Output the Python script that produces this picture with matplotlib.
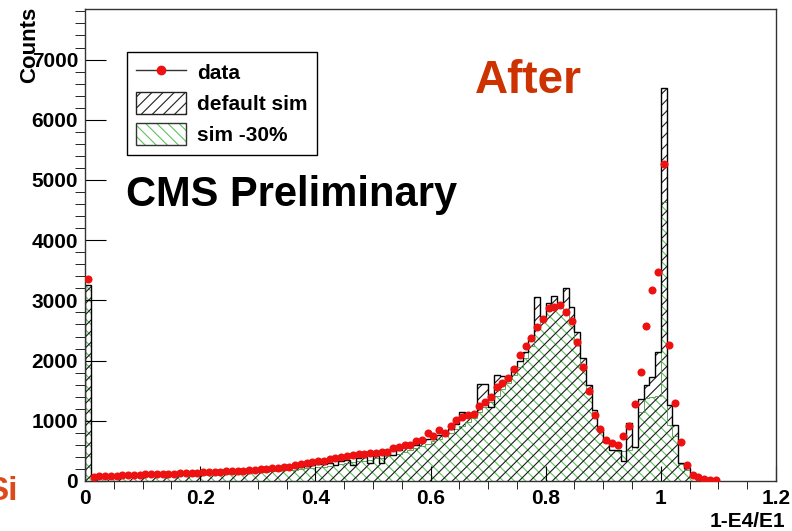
import numpy as np
import matplotlib
matplotlib.use('Agg')
import matplotlib.pyplot as plt
from matplotlib.patches import Patch
from matplotlib.lines import Line2D
from matplotlib.ticker import MultipleLocator

plt.rcParams['font.family'] = ['Liberation Sans', 'DejaVu Sans']
plt.rcParams['font.weight'] = 'bold'
plt.rcParams['hatch.linewidth'] = 0.8

# counts per bin of 1-E4/E1, bins of 0.01 from 0 to 1.10
data_counts = [3350,
    70, 78, 82, 90, 88, 96, 100, 98, 105, 110,
    108, 115, 118, 122, 120, 128, 132, 130, 138, 142,
    148, 152, 150, 160, 165, 172, 170, 180, 188, 195,
    200, 210, 218, 225, 240, 260, 280, 295, 310, 325,
    340, 360, 375, 395, 415, 430, 445, 455, 465, 470,
    475, 490, 540, 570, 600, 605, 665, 680, 790, 740,
    850, 795, 915, 1010, 1065, 1095, 1115, 1250, 1320, 1390,
    1565, 1620, 1705, 1855, 2095, 2245, 2370, 2565, 2685, 2870,
    2895, 2925, 2810, 2665, 2310, 1890, 1500, 1100, 860, 680,
    625, 600, 750, 915, 1280, 1805, 2575, 3175, 3470, 5265,
    2260, 1300, 650, 270, 105, 60, 35, 20, 10]

default_sim = [3260,
    60, 65, 72, 75, 80, 82, 85, 88, 90, 95,
    95, 100, 102, 105, 108, 110, 115, 112, 120, 125,
    128, 130, 135, 140, 142, 150, 155, 158, 165, 170,
    175, 185, 195, 200, 215, 225, 240, 250, 262, 275,
    290, 300, 270, 335, 350, 260, 385, 400, 300, 420,
    300, 460, 430, 520, 560, 580, 600, 640, 700, 690,
    760, 780, 860, 950, 1150, 1060, 1130, 1610, 1610, 1235,
    1760, 1750, 1700, 1900, 2000, 2150, 2350, 3060, 2730, 2950,
    3070, 2950, 3200, 2890, 2480, 2040, 1595, 1180, 850, 650,
    515, 515, 330, 970, 570, 1370, 1600, 1730, 2150, 6530,
    1260, 930, 300, 210, 125, 50, 20, 10, 0]

sim_minus30 = [3250,
    50, 55, 60, 62, 65, 68, 70, 72, 75, 78,
    80, 82, 85, 88, 90, 92, 95, 98, 100, 105,
    108, 110, 115, 118, 122, 128, 132, 138, 142, 148,
    155, 160, 168, 175, 182, 190, 200, 210, 220, 230,
    240, 255, 265, 280, 295, 310, 325, 340, 355, 375,
    390, 410, 430, 455, 480, 510, 540, 575, 620, 660,
    700, 750, 800, 860, 920, 980, 1050, 1150, 1230, 1320,
    1420, 1520, 1630, 1760, 1900, 2050, 2250, 2600, 2680, 2830,
    2880, 2900, 2850, 2700, 2350, 1900, 1480, 1100, 840, 640,
    510, 505, 500, 510, 570, 1150, 1380, 1400, 1420, 4640,
    930, 740, 290, 190, 90, 40, 15, 5, 0]

x_range = (0.0, 1.10)
x_ticks = [0, 0.2, 0.4, 0.6, 0.8, 1.0, 1.2]
x_ticklabels = ['0', '0.2', '0.4', '0.6', '0.8', '1', '1.2']
y_ticks = [0, 1000, 2000, 3000, 4000, 5000, 6000, 7000]
legend_labels = ['data', 'default sim', 'sim -30%']

edges = np.linspace(x_range[0], x_range[1], len(data_counts) + 1)
centers = 0.5 * (edges[:-1] + edges[1:])

W, H = 792, 531
fig = plt.figure(figsize=(W / 100, H / 100), dpi=100)
ax = fig.add_axes([85 / W, 50 / H, 691 / W, 472 / H])

green = '#5cc45c'
# hatched histograms: green one drawn first so the black hatch crosses it
ax.stairs(sim_minus30, edges, fill=True, facecolor='none', edgecolor=green,
          hatch='\\\\\\', linewidth=0)
ax.stairs(default_sim, edges, fill=True, facecolor='none', edgecolor='#1a1a1a',
          hatch='///', linewidth=0)
ax.stairs(sim_minus30, edges, color='#4a9a4a', lw=0.6)
ax.stairs(default_sim, edges, color='black', lw=1.0)

# data points
ax.plot(centers, data_counts, 'o', color='#ee1111', ms=5.8, mew=0, zorder=5)

ax.set_xlim(0, 1.2)
ax.set_ylim(0, 7840)
ax.set_xticks(x_ticks)
ax.set_xticklabels(x_ticklabels)
ax.set_yticks(y_ticks)
ax.xaxis.set_minor_locator(MultipleLocator(0.05))
ax.yaxis.set_minor_locator(MultipleLocator(200))
ax.tick_params(direction='in', labelsize=15)
ax.tick_params(axis='y', which='major', length=15, pad=5)
ax.tick_params(axis='y', which='minor', length=7.5)
ax.tick_params(axis='x', which='major', length=11, pad=6)
ax.tick_params(axis='x', which='minor', length=5.5)
for s in ax.spines.values():
    s.set_linewidth(1.0)
    s.set_color('#333333')

# legend
h_data = Line2D([], [], color='#333333', lw=1, marker='o', mfc='#ee1111',
                mec='#ee1111', ms=6)
h_def = Patch(facecolor='white', edgecolor='#222222', hatch='///', lw=1)
h_green = (Patch(facecolor='white', edgecolor=green, hatch='\\\\\\', lw=0),
           Patch(facecolor='none', edgecolor='#333333', lw=1))
leg = ax.legend([h_data, h_def, h_green], legend_labels, loc='upper left',
                bbox_to_anchor=(0.0608, 0.909), fontsize=15, frameon=True,
                fancybox=False, edgecolor='black', framealpha=1,
                handlelength=2.4, handleheight=1.2, labelspacing=0.45,
                handletextpad=0.5, borderpad=0.45, borderaxespad=0)
leg.get_frame().set_linewidth(1.0)

fig.text(126 / W, 1 - 206 / H, 'CMS Preliminary', fontsize=30, ha='left', va='baseline')
fig.text(475 / W, 1 - 93 / H, 'After', fontsize=33, color='#cc3300', ha='left', va='baseline')
fig.text(-14 / W, 1 - 500 / H, 'Si', fontsize=24, color='#dd4a1a', ha='left', va='baseline')

fig.text(30 / W, 1 - 7 / H, 'Counts', rotation=90, ha='center', va='top', fontsize=16)
fig.text(785 / W, 1 - 527 / H, '1-E4/E1', ha='right', va='baseline', fontsize=15)

fig.savefig('out.png', dpi=100)
